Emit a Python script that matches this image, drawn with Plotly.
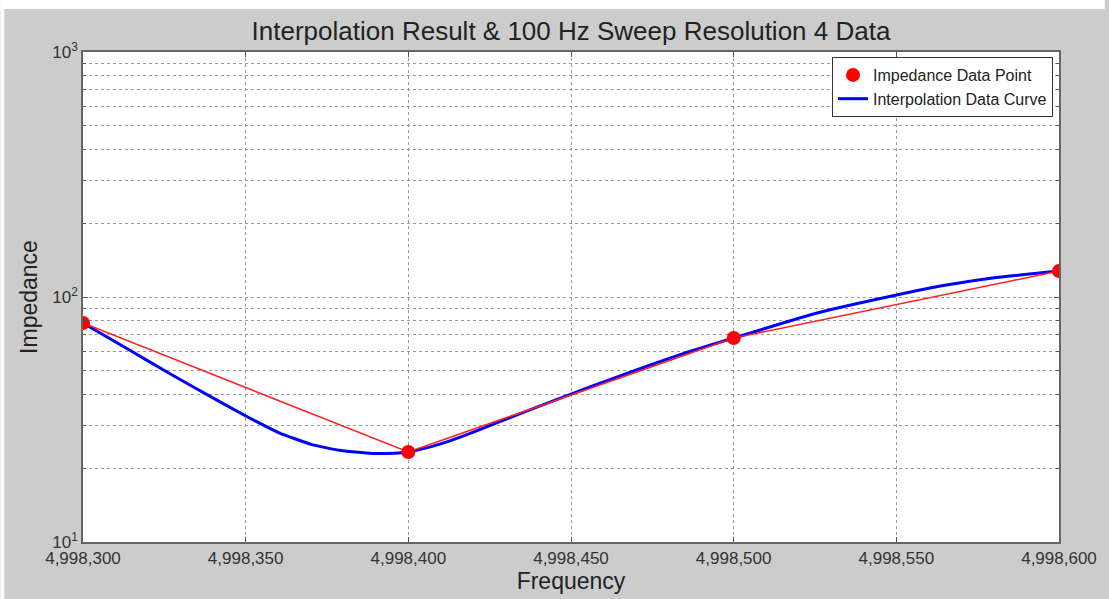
import plotly.graph_objects as go

# Measured data points
freq_points = [4998300, 4998400, 4998500, 4998600]
imp_points = [78.3, 23.3, 68.0, 127.6]

# Interpolation curve
curve_freq = [4998300, 4998314.4, 4998324.5, 4998334.9, 4998350.2, 4998360.3,
              4998370.4, 4998378.7, 4998388.8, 4998397.0, 4998400,
              4998406.2, 4998412.3, 4998420.0, 4998427.7, 4998439.9, 4998450.0,
              4998461.3, 4998471.4, 4998485.8, 4998500,
              4998525.6, 4998550.1, 4998565.4, 4998580.7, 4998600]
curve_imp = [78.3, 60.6, 50.6, 42.2, 32.6, 27.9,
             24.96, 23.7, 23.0, 23.1, 23.3,
             24.33, 25.74, 28.07, 30.83, 35.70, 40.15,
             45.66, 51.07, 59.6, 68.0,
             86.0, 101.9, 111.9, 120.1, 127.6]

x_ticks = [4998300, 4998350, 4998400, 4998450, 4998500, 4998550, 4998600]
x_ticktext = ["4,998,300", "4,998,350", "4,998,400", "4,998,450",
              "4,998,500", "4,998,550", "4,998,600"]
y_ticks = [10, 100, 1000]
y_ticktext = ["10<sup>1</sup>", "10<sup>2</sup>", "10<sup>3</sup>"]
y_minor = [20, 30, 40, 50, 60, 70, 80, 90, 200, 300, 400, 500, 600, 700, 800, 900]

FONT = "Liberation Sans, Arial, sans-serif"

fig = go.Figure()
fig.add_trace(go.Scatter(
    x=curve_freq, y=curve_imp, mode="lines", name="Interpolation Data Curve",
    line=dict(color="#0000ff", width=3, shape="spline", smoothing=0.4),
    legendrank=2))
fig.add_trace(go.Scatter(
    x=freq_points, y=imp_points, mode="lines", showlegend=False,
    line=dict(color="#ff2020", width=1.5), hoverinfo="skip"))
fig.add_trace(go.Scatter(
    x=freq_points, y=imp_points, mode="markers", name="Impedance Data Point",
    marker=dict(color="#ff0000", size=14), legendrank=1))

W, H = 1109, 599
L, R, T, B = 83, 1063, 52, 542
pw, ph = R - L, B - T

def px(xp):
    return (xp - L) / pw

def py(yp):
    return (B - yp) / ph

fig.update_layout(
    width=W, height=H,
    margin=dict(l=L, r=W - R, t=T, b=H - B),
    paper_bgcolor="#cccccc",
    plot_bgcolor="#ffffff",
    font=dict(family=FONT, color="#222222"),
    title=dict(text="Interpolation Result & 100 Hz Sweep Resolution 4 Data",
               x=0.5, xref="paper", xanchor="center",
               y=1 - 31 / H, yanchor="middle",
               font=dict(size=26, color="#222222")),
    showlegend=True,
    legend=dict(x=px(1057), y=py(57), xanchor="right", yanchor="top",
                bgcolor="#ffffff", bordercolor="#333333", borderwidth=1,
                font=dict(size=16, color="#222222"),
                tracegroupgap=0, itemwidth=30),
    shapes=[
        dict(type="rect", xref="paper", yref="paper", layer="above",
             x0=px(0), x1=px(W), y0=py(9), y1=py(0),
             fillcolor="#ffffff", line=dict(width=0)),
        dict(type="rect", xref="paper", yref="paper", layer="above",
             x0=px(0), x1=px(4), y0=py(H), y1=py(0),
             fillcolor="#ffffff", line=dict(width=0)),
    ],
)

fig.update_xaxes(
    range=[4998300, 4998600],
    tickmode="array", tickvals=x_ticks, ticktext=x_ticktext,
    tickfont=dict(size=17, color="#333333"),
    ticks="inside", ticklen=5, tickcolor="#555555",
    showline=True, linecolor="#666666", linewidth=1.5, mirror="ticks",
    showgrid=True, gridcolor="#999999", griddash="dot", gridwidth=1,
    zeroline=False,
    title=dict(text="Frequency", font=dict(size=23, color="#222222"), standoff=2),
)
fig.update_yaxes(
    type="log", range=[1, 3],
    tickmode="array", tickvals=y_ticks, ticktext=y_ticktext,
    tickfont=dict(size=17, color="#333333"),
    ticks="inside", ticklen=5, tickcolor="#555555",
    showline=True, linecolor="#666666", linewidth=1.5, mirror="ticks",
    showgrid=True, gridcolor="#999999", griddash="dot", gridwidth=1,
    minor=dict(tickmode="array", tickvals=y_minor, ticks="inside", ticklen=3,
               tickcolor="#555555", showgrid=True, gridcolor="#999999",
               griddash="dot", gridwidth=1),
    zeroline=False,
    title=dict(text="Impedance", font=dict(size=23, color="#222222"), standoff=8),
)

fig.write_html("out.html")
